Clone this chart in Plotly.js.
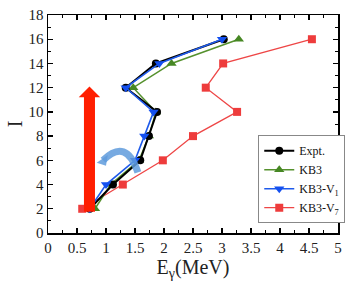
<!DOCTYPE html>
<html><head><meta charset="utf-8">
<script src="https://cdn.plot.ly/plotly-3.0.1.min.js"></script>
<style>html,body{margin:0;padding:0;background:#fff}#c{width:359px;height:290px}</style>
</head><body><div id="c"></div>
<script>
const spin = [2, 4, 6, 8, 10, 12, 14, 16];
const expt = [0.72, 1.12, 1.59, 1.74, 1.88, 1.34, 1.86, 3.03];
const kb3 = [0.81, 1.08, 1.57, 1.74, 1.86, 1.47, 2.13, 3.29];
const kb3v1 = [0.72, 1.0, 1.5, 1.66, 1.82, 1.34, 1.92, 3.0];
const kb3v7 = [0.59, 1.29, 1.98, 2.5, 3.26, 2.72, 3.02, 4.55];
const names = ['Expt.', 'KB3', 'KB3-V<sub>1</sub>', 'KB3-V<sub>7</sub>'];

const traces = [
  {x: kb3v7, y: spin, name: names[3], mode: 'lines+markers',
   line: {color: 'rgb(238,70,70)', width: 1.3},
   marker: {symbol: 'square', size: 8, color: 'rgb(238,60,60)'}},
  {x: kb3, y: spin, name: names[1], mode: 'lines+markers',
   line: {color: 'rgb(85,145,45)', width: 1.5},
   marker: {symbol: 'triangle-up', size: 9, color: 'rgb(70,135,35)'}},
  {x: expt, y: spin, name: names[0], mode: 'lines+markers',
   line: {color: 'black', width: 2},
   marker: {symbol: 'circle', size: 8, color: 'black'}},
  {x: kb3v1, y: spin, name: names[2], mode: 'lines+markers',
   line: {color: 'rgb(30,90,235)', width: 1.6},
   marker: {symbol: 'triangle-down', size: 9, color: 'rgb(20,80,240)'}}
];

const serif = 'Liberation Serif';
const axisBase = {
  showgrid: false, zeroline: false, showline: true, linecolor: 'black', linewidth: 1.5,
  mirror: 'allticks', ticks: 'inside', ticklen: 5, tickwidth: 1.3, tickcolor: 'black',
  tickfont: {family: serif, size: 15, color: '#222'},
  minor: {ticks: 'inside', ticklen: 3, tickwidth: 1, tickcolor: 'black'}
};

const layout = {
  width: 359, height: 290,
  font: {family: serif, color: '#222'},
  margin: {l: 48, r: 21, t: 15, b: 57},
  paper_bgcolor: 'white', plot_bgcolor: 'white',
  xaxis: Object.assign({}, axisBase, {range: [0, 5], dtick: 0.5, tick0: 0,
    minor: Object.assign({}, axisBase.minor, {dtick: 0.25}),
    title: {text: 'E<sub>γ</sub>(MeV)', font: {family: serif, size: 20, color: '#222'}, standoff: 2}}),
  yaxis: Object.assign({}, axisBase, {range: [0, 18], dtick: 2, tick0: 0,
    minor: Object.assign({}, axisBase.minor, {dtick: 1}),
    title: {text: 'I', font: {family: serif, size: 20, color: '#222'}, standoff: 0}}),
  showlegend: true,
  legend: {x: 0.725, y: 0.045, xanchor: 'left', yanchor: 'bottom',
    bgcolor: 'white', bordercolor: '#888', borderwidth: 1,
    font: {family: serif, size: 12, color: '#111'},
    traceorder: 'normal', itemwidth: 30, tracegroupgap: 0},
  shapes: [
    {type: 'path', xref: 'x', yref: 'y', layer: 'above',
     path: 'M 0.62 1.75 L 0.81 1.75 L 0.81 11.2 L 0.9 11.2 L 0.715 12.1 L 0.53 11.2 L 0.62 11.2 Z',
     fillcolor: 'rgb(255,30,0)', line: {width: 0}},
    {type: 'path', xref: 'x', yref: 'y', layer: 'above',
     path: 'M 1.55 5.0 Q 1.35 7.9 0.95 6.0',
     line: {color: 'rgba(95,155,220,0.85)', width: 7}},
    {type: 'path', xref: 'x', yref: 'y', layer: 'above',
     path: 'M 0.84 5.8 L 1.03 6.45 L 1.0 5.55 Z',
     fillcolor: 'rgba(95,155,220,0.85)', line: {width: 0}}
  ]
};

const order = [2, 1, 3, 0];
traces.forEach((t, i) => { t.legendrank = order.indexOf(i) + 1; });

Plotly.newPlot('c', traces, layout, {displayModeBar: false, staticPlot: true});
</script></body></html>
